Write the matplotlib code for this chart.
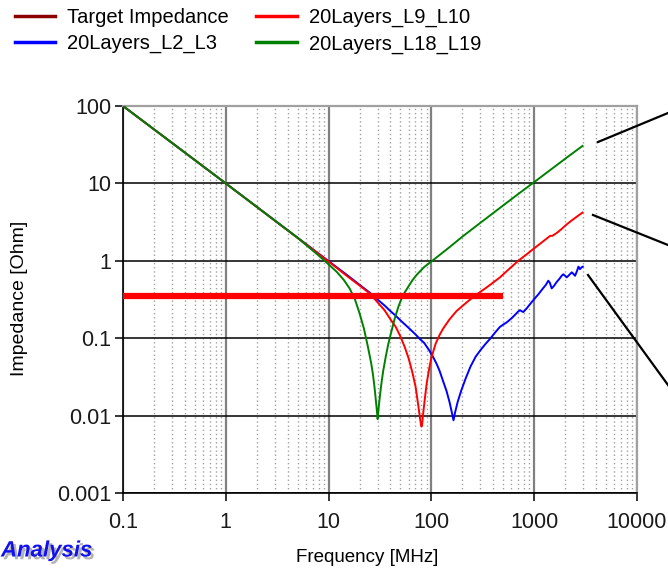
import matplotlib
matplotlib.use("Agg")
import matplotlib.pyplot as plt
from matplotlib.lines import Line2D
from matplotlib.ticker import FixedLocator, LogLocator, NullFormatter
import matplotlib.patheffects as pe

plt.rcParams['font.family'] = ['Liberation Sans', 'DejaVu Sans']

# ---------------- data ----------------
series_names = ["Target Impedance", "20Layers_L2_L3", "20Layers_L9_L10", "20Layers_L18_L19"]

target_f = [0.1, 500]
target_z = [0.35, 0.35]

blue_f = [0.1, 1, 10, 15, 20, 25, 30, 35, 39.5, 45, 50, 60, 70, 77, 85, 95, 104, 112, 120, 131,
          140, 150, 158, 164, 170, 180, 195, 215, 240, 270, 300, 335, 372, 420, 464, 500, 540,
          600, 650, 700, 728, 760, 784, 850, 920, 1000, 1100, 1200, 1300, 1371, 1420, 1479, 1550,
          1650, 1750, 1850, 1918, 2000, 2070, 2200, 2318, 2400, 2496, 2600, 2692, 2785, 2880, 2970]
blue_z = [100, 10, 0.99, 0.66, 0.49, 0.39, 0.315, 0.265, 0.227, 0.195, 0.17, 0.136, 0.112, 0.098,
          0.087, 0.07, 0.057, 0.047, 0.038, 0.027, 0.021, 0.015, 0.011, 0.0087, 0.011, 0.015,
          0.021, 0.03, 0.043, 0.058, 0.07, 0.084, 0.098, 0.12, 0.14, 0.15, 0.16, 0.18, 0.2, 0.222,
          0.23, 0.222, 0.218, 0.245, 0.28, 0.32, 0.37, 0.43, 0.49, 0.553, 0.52, 0.44, 0.47, 0.53,
          0.58, 0.64, 0.67, 0.64, 0.61, 0.66, 0.71, 0.68, 0.64, 0.73, 0.84, 0.78, 0.82, 0.84]

red_f = [0.1, 1, 10, 15, 20, 25, 30, 35, 40, 45, 50, 55, 60, 65, 70, 74, 77, 79, 80, 81, 82, 84,
         87, 90, 95, 100, 110, 120, 131, 150, 176, 220, 266, 350, 464, 580, 700, 850, 1000, 1200,
         1350, 1430, 1500, 1650, 1850, 2070, 2300, 2600, 2950]
red_z = [100, 10, 0.98, 0.64, 0.48, 0.38, 0.29, 0.23, 0.175, 0.14, 0.105, 0.077, 0.055, 0.037,
         0.024, 0.0145, 0.0098, 0.0078, 0.0072, 0.0075, 0.0087, 0.012, 0.018, 0.026, 0.04, 0.056,
         0.085, 0.11, 0.135, 0.175, 0.225, 0.29, 0.355, 0.46, 0.61, 0.8, 1.0, 1.22, 1.45, 1.75,
         1.98, 2.1, 2.1, 2.28, 2.58, 2.95, 3.3, 3.72, 4.2]

green_f = [0.1, 1, 5, 8, 10, 12, 14, 16, 18, 20, 22, 24, 26, 27, 28, 29, 29.6, 30, 30.4, 31, 32,
           33, 34, 36, 38, 40, 44, 48, 51, 55, 60, 66, 72, 85, 100, 150, 200, 300, 500, 700,
           1000, 1500, 2000, 2950]
green_z = [100, 10, 1.98, 1.17, 0.9, 0.72, 0.57, 0.44, 0.32, 0.21, 0.135, 0.08, 0.047, 0.034,
           0.023, 0.0145, 0.011, 0.009, 0.011, 0.0145, 0.021, 0.029, 0.038, 0.058, 0.083, 0.11,
           0.18, 0.26, 0.32, 0.39, 0.47, 0.57, 0.66, 0.83, 0.98, 1.5, 2.05, 3.1, 5.2, 7.3, 10.4,
           15.6, 20.8, 30.5]

x_ticks = [0.1, 1, 10, 100, 1000, 10000]
x_tick_labels = ["0.1", "1", "10", "100", "1000", "10000"]
y_ticks = [0.001, 0.01, 0.1, 1, 10, 100]
y_tick_labels = ["0.001", "0.01", "0.1", "1", "10", "100"]

colors = {"target": "#FF0000", "target_legend": "#8B0000", "blue": "#0000FF",
          "red": "#FF0000", "green": "#008000"}

# ---------------- figure ----------------
W, H = 668, 574
fig = plt.figure(figsize=(W / 100, H / 100), dpi=100)
ax = fig.add_axes([123 / W, 1 - 493 / H, (637 - 123) / W, (493 - 106) / H])

ax.set_xscale("log")
ax.set_yscale("log")
ax.set_xlim(0.1, 10000)
ax.set_ylim(0.001, 100)

ax.plot(blue_f, blue_z, color=colors["blue"], lw=1.4, zorder=3, solid_joinstyle="round")
ax.plot(red_f, red_z, color=colors["red"], lw=1.4, zorder=4, solid_joinstyle="round")
ax.plot(green_f, green_z, color=colors["green"], lw=1.4, zorder=5, solid_joinstyle="round")
ax.plot(target_f, target_z, color=colors["target"], lw=4.5, solid_capstyle="butt", zorder=6)

# grids
ax.xaxis.set_major_locator(FixedLocator(x_ticks))
ax.yaxis.set_major_locator(FixedLocator(y_ticks))
ax.set_xticklabels(x_tick_labels)
ax.set_yticklabels(y_tick_labels)
ax.xaxis.set_minor_locator(LogLocator(base=10, subs=range(2, 10), numticks=20))
ax.xaxis.set_minor_formatter(NullFormatter())
ax.yaxis.set_minor_locator(FixedLocator([]))
ax.tick_params(axis="x", which="minor", length=0)
ax.grid(axis="x", which="minor", color="#A0A0A0", linestyle=(0, (1, 2)), lw=1.0, zorder=0)
ax.grid(axis="x", which="major", color="#808080", linestyle="-", lw=1.6, zorder=1)
ax.grid(axis="y", which="major", color="#000000", linestyle="-", lw=1.1, zorder=1)
ax.set_axisbelow(True)

for s in ["left", "bottom"]:
    ax.spines[s].set_color("black")
    ax.spines[s].set_linewidth(1.2)
for s in ["top", "right"]:
    ax.spines[s].set_color("#A0A0A0")
    ax.spines[s].set_linewidth(1.6)

ax.tick_params(axis="both", which="major", direction="out", length=5.5, width=1.1,
               labelsize=15.5, colors="black")
ax.tick_params(axis="x", which="major", pad=8)
ax.tick_params(axis="y", which="major", pad=3)
for lab in ax.get_xticklabels() + ax.get_yticklabels():
    lab.set_color("#1a1a1a")

# axis labels
fig.text(367 / W, 1 - 557 / H, "Frequency [MHz]", ha="center", va="center", fontsize=13.5)
fig.text(20 / W, 1 - 298 / H, "Impedance [Ohm]", ha="center", va="center", fontsize=14,
         rotation=90)

# legend
handles = [Line2D([], [], color=colors["target_legend"], lw=2.5),
           Line2D([], [], color=colors["blue"], lw=2.5),
           Line2D([], [], color=colors["red"], lw=2.5),
           Line2D([], [], color=colors["green"], lw=2.5)]
fig.legend(handles, series_names, ncol=2, loc="upper left",
           bbox_to_anchor=(11 / W, 1 - 4 / H), frameon=False, fontsize=14.5,
           handlelength=2.0, handletextpad=0.6, columnspacing=1.35, labelspacing=0.35,
           borderaxespad=0.0, borderpad=0.2)

# annotation pointer lines leaving the figure
pointers = [((598, 142), (668, 113)), ((593, 215), (668, 245)), ((588, 275), (668, 385))]
for (x1, y1), (x2, y2) in pointers:
    sl = (y2 - y1) / (x2 - x1)
    xe = 690
    ye = y1 + sl * (xe - x1)
    fig.add_artist(Line2D([x1 / W, xe / W], [1 - y1 / H, 1 - ye / H], transform=fig.transFigure,
                          color="black", lw=1.6))

# "Analysis" caption at the lower-left corner
fig.text(1 / W, 1 - 551 / H, "Analysis", ha="left", va="center", fontsize=16,
         fontweight="bold", fontstyle="italic", color="#1010F0",
         path_effects=[pe.withSimplePatchShadow(offset=(2, -2), shadow_rgbFace="#808080",
                                                alpha=0.6)])

fig.savefig("out.png", dpi=100)
